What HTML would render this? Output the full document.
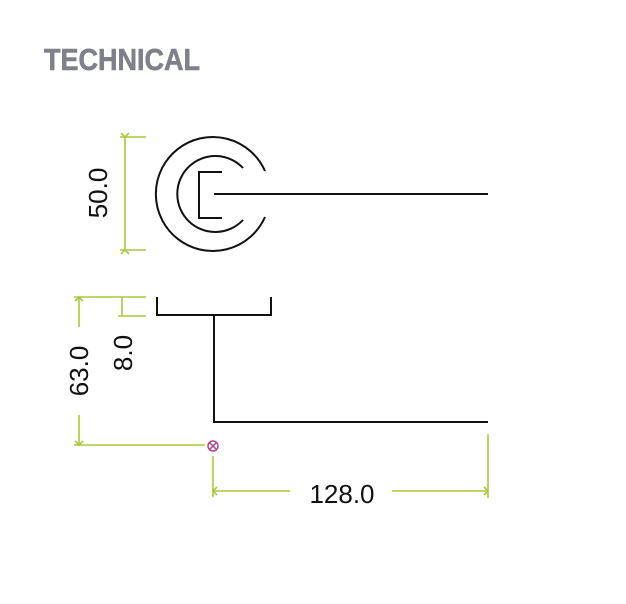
<!DOCTYPE html>
<html><head><meta charset="utf-8"><style>body{margin:0;background:#fff}svg{display:block}</style></head>
<body>
<svg width="626" height="604" viewBox="0 0 626 604" xmlns="http://www.w3.org/2000/svg">
<text x="44" y="70" font-family="Liberation Sans, sans-serif" font-weight="bold" font-size="31" fill="#7f8089" stroke="#7f8089" stroke-width="0.6" textLength="156" lengthAdjust="spacingAndGlyphs">TECHNICAL</text>
<g fill="none" stroke="#111" stroke-width="2">
<path d="M265,171 A57,57 0 1 0 265,217"/>
<path d="M243,168 A38,38 0 1 0 243,220"/>
<path d="M222,172 H199 V218 H222"/>
<path d="M214,194 H488"/>
<path d="M157,297 V315 H271 V297"/>
<path d="M214,315 V422 H488"/>
</g>
<g fill="none" stroke="#a8c93c" stroke-width="1.6">
<path d="M125,137 V250 M120,137 H146 M120,250 H146"/>
<path d="M121,133 L125,137 L129,133 M121,254 L125,250 L129,254"/>
<path d="M79,297 V327 M79,415 V445 M74,297 H146 M74,445 H205"/>
<path d="M75,301 L79,297 L83,301 M75,441 L79,445 L83,441"/>
<path d="M122,297 V316 M118,316 H146"/>
<path d="M213,456 V497 M213,491 H290 M392,491 H488 M488,434 V498"/>
<path d="M217,487 L213,491 L217,495 M484,487 L488,491 L484,495"/>
</g>
<g stroke="#b0438f" stroke-width="1.5" fill="none">
<circle cx="213" cy="446" r="5"/>
<path d="M209.5,442.5 L216.5,449.5 M216.5,442.5 L209.5,449.5"/>
</g>
<g font-family="Liberation Sans, sans-serif" font-size="26" fill="#111">
<text x="342" y="503" text-anchor="middle">128.0</text>
<text transform="translate(107,193) rotate(-90)" text-anchor="middle">50.0</text>
<text transform="translate(88,371) rotate(-90)" text-anchor="middle">63.0</text>
<text transform="translate(132,353) rotate(-90)" text-anchor="middle">8.0</text>
</g>
</svg>
</body></html>
